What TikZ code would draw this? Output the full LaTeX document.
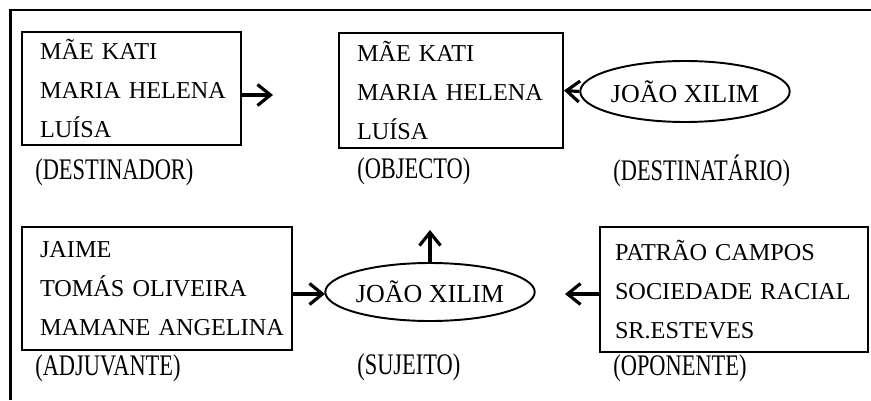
\documentclass[tikz,border=0pt]{standalone}
\usepackage{fontspec}
\setmainfont{Liberation Serif}
\newfontfamily\nomefont{Liberation Serif}
\newfontfamily\rotulofont[FakeStretch=0.75]{Liberation Serif}
\usetikzlibrary{arrows.meta,shapes.geometric}
\begin{document}
\begin{tikzpicture}[
    >={Straight Barb[length=2.6mm,width=4.2mm]},
    caixa/.style={draw, rectangle, line width=1.1pt, inner xsep=0.36cm, inner ysep=0pt, align=left, font=\nomefont\fontsize{13.8}{22}\selectfont},
    elipse/.style={draw, ellipse, line width=1.1pt, inner sep=0pt, font=\nomefont\fontsize{14.8}{18}\selectfont},
    rotulo/.style={anchor=west, inner sep=0pt, font=\rotulofont\fontsize{17}{20}\selectfont},
    edge/.style={->, line width=1.8pt}]

  \useasboundingbox (0,0) rectangle (17.42,-8);
  \draw[line width=1.4pt] (0.21,-8) -- (0.21,-0.2) -- (17.42,-0.2);

  % linha de cima
  \node[caixa, minimum width=4.38cm, minimum height=2.26cm, text width=3.66cm] (destinador) at (2.63,-1.77) {\mbox{MÃE KATI}\\\mbox{MARIA HELENA}\\\mbox{LUÍSA}};
  \node[caixa, minimum width=4.48cm, minimum height=2.30cm, text width=3.76cm] (objecto) at (9.02,-1.81) {\mbox{MÃE KATI}\\\mbox{MARIA HELENA}\\\mbox{LUÍSA}};
  \node[elipse, minimum width=3.52cm, minimum height=1.22cm] (destinatario) at (13.70,-1.83) {JOÃO XILIM};

  \node[rotulo] (ldestinador) at (0.7,-3.44) {(DESTINADOR)};
  \node[rotulo] (lobjecto) at (7.14,-3.42) {(OBJECTO)};
  \node[rotulo] (ldestinatario) at (12.26,-3.42) {(DESTINATÁRIO)};

  % linha de baixo
  \node[caixa, minimum width=5.40cm, minimum height=2.46cm, text width=4.68cm] (adjuvante) at (3.14,-5.77) {\mbox{JAIME}\\\mbox{TOMÁS OLIVEIRA}\\\mbox{MAMANE ANGELINA}};
  \node[elipse, minimum width=3.60cm, minimum height=1.16cm] (sujeito) at (8.60,-5.84) {JOÃO XILIM};
  \node[caixa, minimum width=5.36cm, minimum height=2.50cm, text width=4.76cm, inner xsep=0.30cm] (oponente) at (14.68,-5.79) {\mbox{PATRÃO CAMPOS}\\\mbox{SOCIEDADE RACIAL}\\\mbox{SR.ESTEVES}};

  \node[rotulo] (ladjuvante) at (0.7,-7.36) {(ADJUVANTE)};
  \node[rotulo] (lsujeito) at (7.14,-7.34) {(SUJEITO)};
  \node[rotulo] (loponente) at (12.26,-7.36) {(OPONENTE)};

  \coordinate (d1) at (5.46,-1.9);
  \coordinate (a1) at (6.50,-5.88);
  \coordinate (s1) at (8.60,-4.60);
  \coordinate (o1) at (11.30,-5.88);

  \draw[edge] (destinador.east |- d1) -- (d1);
  \draw[edge] (destinatario.west) -- (objecto.east);
  \draw[edge] (adjuvante.east |- a1) -- (a1);
  \draw[edge] (sujeito.north) -- (s1);
  \draw[edge] (oponente.west |- o1) -- (o1);
\end{tikzpicture}
\end{document}
